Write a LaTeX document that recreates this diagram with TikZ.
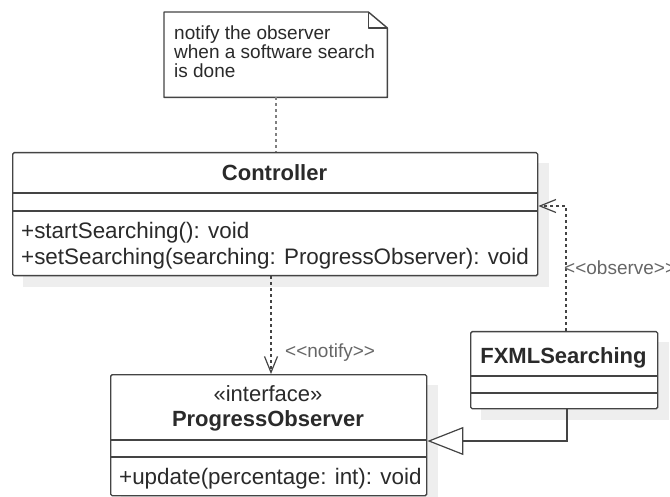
\documentclass[tikz,border=0pt]{standalone}
\usepackage{fontspec}
\setmainfont{Liberation Sans}
\usetikzlibrary{arrows.meta,calc,backgrounds}
\definecolor{edge}{HTML}{444444}
\definecolor{shadowgrey}{HTML}{EEEEEE}
\definecolor{ink}{HTML}{2A2A2A}
\definecolor{soft}{HTML}{666666}
\begin{document}
\begin{tikzpicture}[x=1pt,y=-1pt,
  box/.style={draw=edge, line width=1.4pt, rounded corners=1.5pt, fill=white,
    inner sep=0pt, anchor=north west},
  rule/.style={draw=edge, line width=1.4pt},
  cls/.style={font=\fontsize{22}{26}\selectfont\bfseries, text=ink, inner sep=0pt, anchor=base},
  stereo/.style={font=\fontsize{22}{26}\selectfont, text=ink, inner sep=0pt, anchor=base},
  member/.style={font=\fontsize{22.4}{26}\selectfont, text=ink, inner sep=0pt, anchor=base west},
  notetext/.style={font=\fontsize{19}{19}\selectfont, text=ink, inner sep=0pt, anchor=base west},
  lbl/.style={font=\fontsize{19}{19}\selectfont, text=soft, inner sep=0pt, anchor=base west},
  dep/.style={draw=edge, line width=1.2pt, dash pattern=on 3pt off 3pt,
    -{Straight Barb[length=16pt,width=13pt]}},
  gen/.style={draw=edge, line width=1.2pt,
    -{Triangle[open,length=36pt,width=28pt,fill=white]}},
  anchorline/.style={draw=gray, line width=1.6pt, dash pattern=on 3pt off 3pt},
]
\useasboundingbox (0,0) rectangle (670,497);

% class frames
\node[box, minimum width=525pt, minimum height=123pt] (ctrl) at (12,152) {};
\node[box, minimum width=316pt, minimum height=121pt] (po) at (110,374) {};
\node[box, minimum width=187pt, minimum height=77pt] (fx) at (470,331) {};

% drop shadows
\begin{scope}[on background layer]
  \foreach \n in {ctrl,po,fx}
    \fill[shadowgrey] ($(\n.north west)+(11,11)$) rectangle ($(\n.south east)+(11,11)$);
\end{scope}

% Controller
\node[cls] (ctrlname) at (274.5,181) {Controller};
\draw[rule] (12,193) -- (537,193);
\draw[rule] (12,211) -- (537,211);
\node[member] (m1) at (21,239) {+startSearching(): void};
\node[member] (m2) at (21,265) {+setSearching(searching: ProgressObserver): void};

% ProgressObserver
\node[stereo] (postereo) at (268,401) {«interface»};
\node[cls] (poname) at (268,426) {ProgressObserver};
\draw[rule] (110,440) -- (426,440);
\draw[rule] (110,457) -- (426,457);
\node[member] (m3) at (119,484) {+update(percentage: int): void};

% FXMLSearching
\node[cls] (fxname) at (563.5,363) {FXMLSearching};
\draw[rule] (470,376) -- (657,376);
\draw[rule] (470,393) -- (657,393);

% note with folded corner
\node[inner sep=0pt, minimum width=223pt, minimum height=85pt, anchor=north west] (note) at (164,12) {};
\draw[draw=edge, line width=1.4pt, line join=round, fill=white]
  (note.north west) -- ($(note.north east)+(-19,0)$) -- ($(note.north east)+(0,16)$)
  -- (note.south east) -- (note.south west) -- cycle;
\draw[draw=edge, line width=1.2pt, line join=round]
  ($(note.north east)+(-19,0)$) -- ($(note.north east)+(-19,16)$) -- ($(note.north east)+(0,16)$);
\node[notetext] (n1) at (174,40) {notify the observer};
\node[notetext] (n2) at (174,59) {when a software search};
\node[notetext] (n3) at (174,78) {is done};

% connectors
\draw[anchorline] (note.south) -- (note.south |- ctrl.north);

\coordinate (nx) at (271,0);
\draw[dep] (ctrl.south -| nx) -- (po.north -| nx);
\node[lbl] (notifylbl) at (285,358) {<{}<notify>{}>};

\coordinate (ob) at (566,206);
\draw[dep] (fx.north -| ob) |- (ctrl.east |- ob);
\node[lbl] (observelbl) at (564,275) {<{}<observe>{}>};

\coordinate (gv) at (567,441);
\draw[gen] (fx.south -| gv) |- (po.east |- gv);
\end{tikzpicture}
\end{document}
